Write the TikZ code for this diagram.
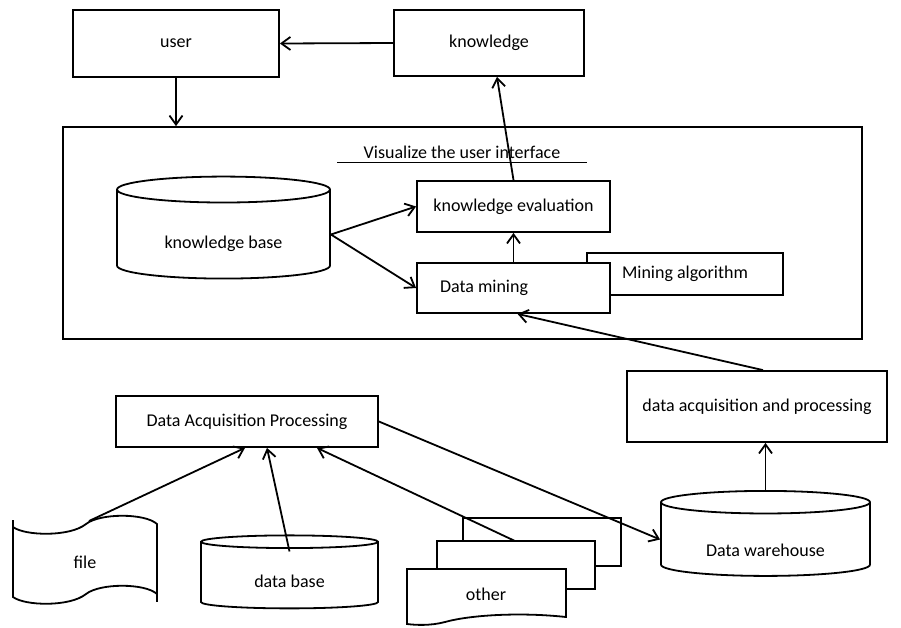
\documentclass[tikz,border=0pt]{standalone}
\usepackage{fontspec}
\setmainfont{Carlito}
\usetikzlibrary{arrows.meta,calc,positioning,shapes.geometric}

\begin{document}
\begin{tikzpicture}[x=1pt,y=-1pt,line width=1.8pt,
  >={Straight Barb[length=9pt,width=13pt]},
  lbl/.style={font=\fontsize{18}{21}\selectfont},
  box/.style={draw,fill=white,inner sep=0pt,lbl},
  drum/.style={draw,fill=white,cylinder,shape border rotate=90,inner sep=0pt,lbl},
  shp/.style={draw,fill=white}]
  \useasboundingbox (0,0) rectangle (901,627);
  % top row
  \node[box,minimum width=206pt,minimum height=67pt] (user) at (176,43.5) {user};
  \node[box,minimum width=190pt,minimum height=66pt] (knowledge) at (489,43) {knowledge};
  % interface frame
  \node[box,minimum width=799pt,minimum height=212pt] (frame) at (462.5,233) {};
  \node[lbl] (vis) at (462,152) {Visualize the user interface};
  \draw ([xshift=-22pt]vis.south west) -- ([xshift=22pt]vis.south east);
  \node[drum,minimum width=213pt,minimum height=102pt,aspect=0.22] (kbase) at (223.5,234.5)
    {\raisebox{-14pt}[0pt][0pt]{knowledge base}};
  \node[box,minimum width=193pt,minimum height=51pt] (keval) at (513.5,206.5) {knowledge evaluation};
  \node[box,minimum width=196pt,minimum height=42pt] (malgo) at (685,274) {Mining algorithm};
  \node[box,minimum height=50pt,inner xsep=23pt] (dmining) at (513.5,288) {\makebox[147pt][l]{Data mining}};
  % lower part
  \node[box,minimum width=260pt,minimum height=71pt] (dacqproc) at (757,406.5) {data acquisition and processing};
  \node[box,minimum width=262pt,minimum height=51pt] (dap) at (247,421.5) {Data Acquisition Processing};
  \node[drum,minimum width=209pt,minimum height=85pt,aspect=0.19] (dwarehouse) at (765.5,539.5)
    {\raisebox{-17pt}[0pt][0pt]{Data warehouse}};
  \node[drum,minimum width=177pt,minimum height=73pt,aspect=0.18] (dbase) at (289.5,575.5)
    {\raisebox{-12pt}[0pt][0pt]{data base}};
  % file
  \draw[shp] (13,527) -- (13,597) .. controls (25,606) and (70,607) .. (86,594)
    .. controls (100,583) and (145,583) .. (157,594) -- (157,524)
    .. controls (145,513) and (100,513) .. (86,524) .. controls (70,537) and (25,536) .. (13,527) -- cycle;
  \draw (13,527) -- (13,520) (157,594) -- (157,602);
  \node[lbl] (file) at (85,562) {file};
  \coordinate (filetop) at (89,521);
  % other
  \draw[shp] (463,518) rectangle (621,566);
  \draw[shp] (437,541) rectangle (595,589);
  \draw[shp] (407,569) -- (566,569) -- (566,617) .. controls (520,612) and (470,615) .. (445,622)
    .. controls (430,626) and (415,625) .. (407,624) -- cycle;
  \node[lbl] (other) at (486,594) {other};
  \coordinate (othertop) at (515,541);
  % connectors
  \draw[->] (knowledge.west) -- (user.east);
  \draw[->] (user.south) -- (user.south |- frame.north);
  \draw[->] (kbase.east) -- (keval.west);
  \draw[->] (kbase.east) -- (dmining.west);
  \draw[->] (dmining.north) -- (keval.south);
  \draw[->] (keval.north) -- ([xshift=8pt]knowledge.south);
  \draw[->] ([xshift=6pt]dacqproc.north) -- ([xshift=4pt]dmining.south);
  \draw[->] (dwarehouse.north) -- (dwarehouse.north |- dacqproc.south);
  \draw[->] (dap.east) -- (dwarehouse.west);
  \draw[->] (filetop) -- ([xshift=-2pt]dap.south);
  \draw[->] ([yshift=-17pt]dbase.north) -- ([xshift=20pt]dap.south);
  \draw[->] (othertop) -- ([xshift=70pt]dap.south);
\end{tikzpicture}
\end{document}
